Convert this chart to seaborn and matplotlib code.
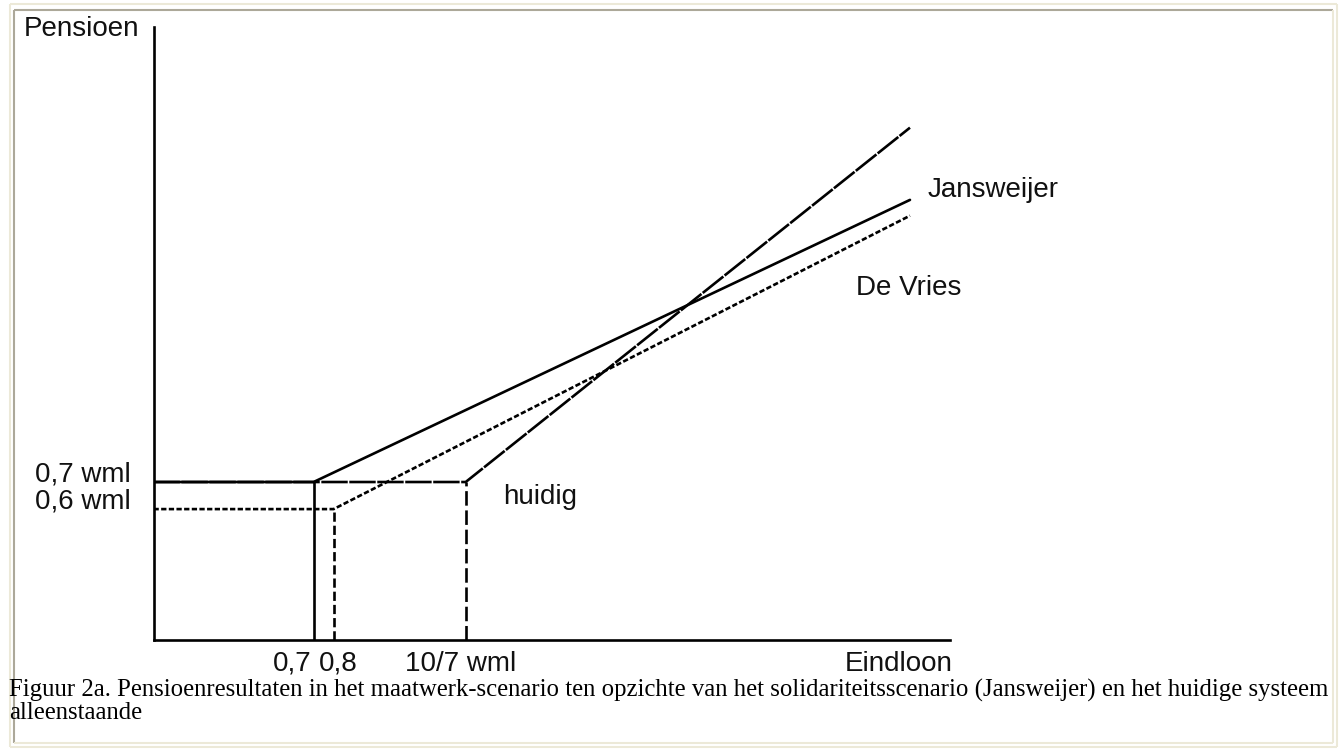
import matplotlib
matplotlib.use("Agg")
import matplotlib.pyplot as plt
import seaborn as sns
import pandas as pd
from matplotlib.lines import Line2D

sns.set_theme(style="white")
plt.rcParams["font.family"] = ["Liberation Sans", "DejaVu Sans"]

# ---------------- data (schematic positions) ----------------
series_names = ["Jansweijer", "De Vries", "huidig"]
jans_x = [0.00, 0.80, 3.78]
jans_y = [0.70, 0.70, 1.95]
vries_x = [0.00, 0.90, 3.78]
vries_y = [0.58, 0.58, 1.88]
huidig_x = [0.00, 1.56, 3.78]
huidig_y = [0.70, 0.70, 2.27]

xtick_pos = [0.80, 0.90, 1.56]
xtick_labels = ["0,7", "0,8", "10/7 wml"]
ytick_pos = [0.70, 0.58]
ytick_labels = ["0,7 wml", "0,6 wml"]
x_label = "Eindloon"
y_label = "Pensioen"
caption_1 = ("Figuur 2a. Pensioenresultaten in het maatwerk-scenario ten opzichte van het "
             "solidariteitsscenario (Jansweijer) en het huidige systeem")
caption_2 = "alleenstaande"

W, H = 1339, 749
fig = plt.figure(figsize=(W / 100, H / 100), dpi=100)
fig.patch.set_facecolor("white")


def fx(px):
    return px / W


def fy(py):
    return 1 - py / H


# ---------------- frame (table borders) ----------------
def fline(x0, y0, x1, y1, color, lw):
    fig.add_artist(Line2D([fx(x0), fx(x1)], [fy(y0), fy(y1)], color=color, lw=lw,
                          transform=fig.transFigure, solid_capstyle="butt"))

beige = "#ECE9D8"
gray = "#ACA899"
fline(10, 4, 1337, 4, beige, 1.5)
fline(10, 4, 10, 747, beige, 1.5)
fline(1337, 4, 1337, 747, beige, 1.5)
fline(10, 747, 1337, 747, beige, 1.5)
fline(14, 9.5, 1333, 9.5, gray, 1.5)
fline(14, 9.5, 14, 743, gray, 1.5)
fline(1333, 9.5, 1333, 743, beige, 1.5)
fline(14, 743, 1333, 743, beige, 1.5)

# ---------------- axes ----------------
ax = fig.add_axes([fx(153.5), fy(640), fx(950) - fx(153.5), fy(27) - fy(640)])
ax.set_facecolor("white")
ax.set_xlim(0, 3.98)
ax.set_ylim(0, 2.716)
lw = 1.9
for s in ["top", "right"]:
    ax.spines[s].set_visible(False)
for s in ["left", "bottom"]:
    ax.spines[s].set_color("black")
    ax.spines[s].set_linewidth(lw)
ax.set_xticks([])
ax.set_yticks([])

dash_huidig = (0, (10.0, 0.6))
dot_vries = (0, (2.0, 0.9))

sns.lineplot(x=huidig_x, y=huidig_y, estimator=None, sort=False, ax=ax,
             color="black", lw=lw, linestyle=dash_huidig)
sns.lineplot(x=vries_x, y=vries_y, estimator=None, sort=False, ax=ax,
             color="black", lw=lw, linestyle=dot_vries)
sns.lineplot(x=jans_x, y=jans_y, estimator=None, sort=False, ax=ax,
             color="black", lw=lw, linestyle="-")

# drop lines to the x axis
sns.lineplot(x=[jans_x[1], jans_x[1]], y=[0, jans_y[1]], estimator=None, sort=False,
             ax=ax, color="black", lw=lw, linestyle="-")
sns.lineplot(x=[vries_x[1], vries_x[1]], y=[0, vries_y[1]], estimator=None, sort=False,
             ax=ax, color="black", lw=lw, linestyle=(0, (3.5, 1.5)))
sns.lineplot(x=[huidig_x[1], huidig_x[1]], y=[0, huidig_y[1]], estimator=None, sort=False,
             ax=ax, color="black", lw=lw, linestyle=(0, (5.5, 1.8)))

fs = 20
tc = "#111111"
# y labels
for yp, lab in zip(ytick_pos, ytick_labels):
    ax.annotate(lab, xy=(0, yp), xytext=(-23, 8), textcoords="offset pixels",
                ha="right", va="center", fontsize=fs, color=tc, annotation_clip=False)
# x labels
ax.annotate(xtick_labels[0], xy=(xtick_pos[0], 0), xytext=(-2, -24), textcoords="offset pixels",
            ha="right", va="center", fontsize=fs, color=tc, annotation_clip=False)
ax.annotate(xtick_labels[1], xy=(xtick_pos[1], 0), xytext=(-15, -24), textcoords="offset pixels",
            ha="left", va="center", fontsize=fs, color=tc, annotation_clip=False)
ax.annotate(xtick_labels[2], xy=(xtick_pos[2], 0), xytext=(-5, -24), textcoords="offset pixels",
            ha="center", va="center", fontsize=fs, color=tc, annotation_clip=False)
ax.annotate(x_label, xy=(3.98, 0), xytext=(3, -24), textcoords="offset pixels",
            ha="right", va="center", fontsize=fs, color=tc, annotation_clip=False)
fig.text(fx(24), fy(29), y_label, ha="left", va="center", fontsize=fs, color=tc)

# series labels
ax.annotate(series_names[0], xy=(jans_x[-1], jans_y[-1]), xytext=(18, 10),
            textcoords="offset pixels", ha="left", va="center", fontsize=fs, color=tc,
            annotation_clip=False)
ax.annotate(series_names[1], xy=(vries_x[-1], vries_y[-1]), xytext=(-54, -72),
            textcoords="offset pixels", ha="left", va="center", fontsize=fs, color=tc,
            annotation_clip=False)
ax.annotate(series_names[2], xy=(huidig_x[1], huidig_y[1]), xytext=(37, -15),
            textcoords="offset pixels", ha="left", va="center", fontsize=fs, color=tc,
            annotation_clip=False)

# caption
cap_fs = 17.8
fig.text(fx(9), fy(690), caption_1, ha="left", va="center", fontsize=cap_fs,
         family=["Liberation Serif", "DejaVu Serif"], color="black")
fig.text(fx(9), fy(713), caption_2, ha="left", va="center", fontsize=cap_fs,
         family=["Liberation Serif", "DejaVu Serif"], color="black")

fig.savefig("out.png", dpi=100, facecolor="white")
